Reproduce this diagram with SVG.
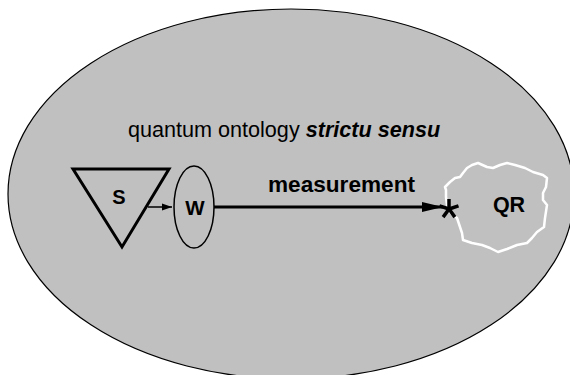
<svg xmlns="http://www.w3.org/2000/svg" width="570" height="375" viewBox="0 0 570 375">
<style>
.lbl{font-family:"Liberation Sans",Arial,sans-serif;font-weight:bold;fill:#000;text-anchor:middle}
.edge{stroke:#000;fill:none}
</style>
<defs>
<marker id="ahBig" markerUnits="userSpaceOnUse" markerWidth="22" markerHeight="12" refX="21" refY="6" orient="auto">
<path d="M0,1 L21,6 L0,11 Z" fill="#000"/>
</marker>
<marker id="ahSmall" markerUnits="userSpaceOnUse" markerWidth="10" markerHeight="8" refX="10" refY="4" orient="auto">
<path d="M0,0.5 L10,4 L0,7.5 Z" fill="#000"/>
</marker>
</defs>
<rect width="570" height="375" fill="#fff"/>
<g id="ontology">
<ellipse cx="291" cy="194" rx="283" ry="185" fill="#c0c0c0" stroke="#000" stroke-width="1.2"/>
<text x="128" y="137" font-family="'Liberation Sans',Arial,sans-serif" font-size="21.6" fill="#000">quantum ontology <tspan font-weight="bold" font-style="italic">strictu sensu</tspan></text>
</g>
<g id="S">
<polygon points="73,169 169,169 122,247" fill="none" stroke="#000" stroke-width="3" stroke-linejoin="miter"/>
<text class="lbl" x="119" y="204" font-size="20">S</text>
</g>
<g id="W">
<ellipse cx="194" cy="207" rx="20" ry="41" fill="none" stroke="#000" stroke-width="1.5"/>
<text class="lbl" x="195" y="214.5" font-size="20.5">W</text>
</g>
<g id="QR">
<path d="M446,190 L445,187 L450,182 L455,178 L460,177 L463,173 L467,168 L472,165 L478,163 L487,167 L493,168 L500,165 L507,163 L515,165 L525,168 L533,172 L543,175 L547,178 L546,187 L543,193 L543,200 L547,205 L545,218 L544,227 L537,232 L532,238 L527,243 L517,245 L507,249 L498,252 L490,248 L482,245 L472,243 L463,240 L462,233 L460,227 L457,218 L453,215 L450,212 L447,205 L446,197 Z" fill="none" stroke="#fff" stroke-width="2.5" stroke-linejoin="round"/>
<text class="lbl" x="509" y="212" font-size="21.5">QR</text>
</g>
<g id="connectors">
<line class="edge" x1="148" y1="207" x2="172" y2="207" stroke-width="1.5" marker-end="url(#ahSmall)"/>
<line class="edge" x1="214" y1="207" x2="443" y2="207" stroke-width="3" marker-end="url(#ahBig)"/>
<text class="lbl" x="341.5" y="192" font-size="22.6">measurement</text>
<g id="asterisk" stroke="#000" stroke-width="3.5" stroke-linecap="butt">
<line x1="449" y1="209" x2="449" y2="199"/>
<line x1="449" y1="209" x2="458.5" y2="205.9"/>
<line x1="449" y1="209" x2="439.5" y2="205.9"/>
<line x1="449" y1="209" x2="454.9" y2="217.1"/>
<line x1="449" y1="209" x2="443.1" y2="217.1"/>
</g>
</g>
</svg>
